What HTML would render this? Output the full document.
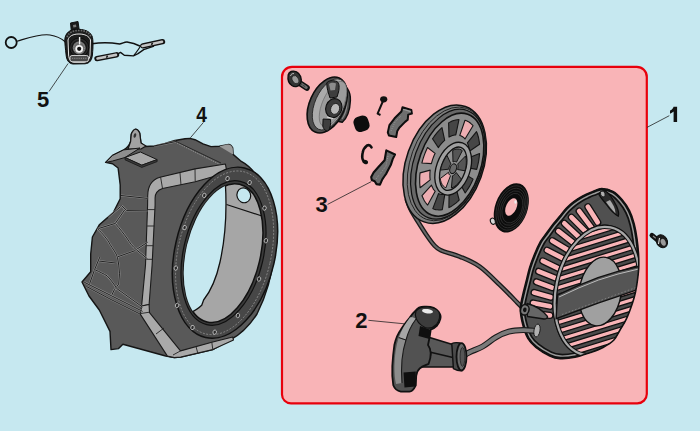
<!DOCTYPE html>
<html><head><meta charset="utf-8"><style>
html,body{margin:0;padding:0;width:700px;height:431px;overflow:hidden;background:#c6e8f0;}
svg{display:block;}
text{font-family:"Liberation Sans",sans-serif;font-weight:bold;font-size:22px;fill:#111;}
</style></head><body>
<svg width="700" height="431" viewBox="0 0 700 431">
<defs>
<clipPath id="c4open"><ellipse cx="223.3" cy="253.1" rx="37.1" ry="70.7" transform="rotate(13.3 223.3 253.1)"/></clipPath>
</defs>
<rect x="0" y="0" width="700" height="431" fill="#c6e8f0"/>
<!-- pink box -->
<path d="M292,66.9 H636.8 A10,10 0 0 1 646.8,76.9 V394 A9.5,9.5 0 0 1 637.3,403.4 H291 A9,9 0 0 1 282,394.4 V76.9 A10,10 0 0 1 292,66.9 Z" fill="#f9b4b7" stroke="#e8000c" stroke-width="2.2"/>

<!-- PART 5 -->
<g id="p5">
<circle cx="11.2" cy="42.5" r="5.5" fill="none" stroke="#111" stroke-width="1.8"/>
<path d="M17,41.2 C28,38 40,33.5 50,35 C57,36 62,39 65.5,42" fill="none" stroke="#111" stroke-width="1.1"/>
<path d="M92,43.8 C100,42.3 110,42.3 119.7,43.9 C123,43.5 124,42 127,42.1 C131,42.5 135,43.5 141,46.5" fill="none" stroke="#111" stroke-width="1.5"/>
<path d="M116,55 L120.5,52.4 L124.3,55.3 L133.4,55.9 L138,53.6 L143.7,49.6 L154,46.1" fill="none" stroke="#111" stroke-width="1.4" stroke-linejoin="round"/>
<path d="M140,47 C138,50 136,53 134,55" fill="none" stroke="#111" stroke-width="1.2"/>
<line x1="143" y1="45.8" x2="162.5" y2="41.7" stroke="#111" stroke-width="5.4" stroke-linecap="round"/>
<line x1="142.5" y1="45.9" x2="162" y2="41.8" stroke="#c4c4c4" stroke-width="2.6" stroke-linecap="round"/>
<line x1="151.5" y1="44.9" x2="152.5" y2="42.7" stroke="#111" stroke-width="1.5"/>
<line x1="97" y1="58.6" x2="116.5" y2="54.8" stroke="#111" stroke-width="5.4" stroke-linecap="round"/>
<line x1="97.5" y1="58.5" x2="116" y2="54.9" stroke="#c4c4c4" stroke-width="2.6" stroke-linecap="round"/>
<line x1="106.5" y1="57.8" x2="107.5" y2="55.6" stroke="#111" stroke-width="1.5"/>
<!-- body -->
<path d="M70.5,23 L78,21.5 L79.5,32 L71.5,33 Z" fill="#1a1a1a" stroke="#111" stroke-width="1"/>
<path d="M73,25 L76,24.5 L76.3,27 L73.3,27.5 Z" fill="#777"/>
<path d="M64.8,40 C65,33 70,29.5 76,29.3 C84,29 89.5,31 92,36 C93.5,40 93,48 92.5,54 C92,60 90,63.3 85,63.8 L73,64 C68.5,63.5 66.5,60 66,54 C65.5,49 64.8,44 64.8,40 Z" fill="#1e1e1e" stroke="#0c0c0c" stroke-width="1"/>
<path d="M67,37 C69,32 74,30.5 79,30.5 C85,30.5 89,32 91,37" fill="none" stroke="#6a6a6a" stroke-width="1.6" stroke-dasharray="1.5 1.2"/>
<path d="M68,40 C69,36 73,34 79,34 C85,34 89,36 90.5,40 L90,55 C89.5,60 87,62 84,62.3 L74,62.3 C71,62 69,60 68.6,55 Z" fill="#1c1c1c" stroke="#e6e6e6" stroke-width="1"/>
<circle cx="79.2" cy="47.5" r="9.6" fill="#2a2a2a" stroke="#0c0c0c" stroke-width="1"/>
<circle cx="79.2" cy="47.8" r="7.2" fill="#6a6a6a" stroke="#151515" stroke-width="1.2"/>
<circle cx="79.2" cy="47.8" r="5.4" fill="none" stroke="#9a9a9a" stroke-width="0.8" stroke-dasharray="1.2 1"/>
<circle cx="79.2" cy="48.8" r="3.9" fill="#f2f2f2"/>
<circle cx="79.2" cy="48.8" r="2.1" fill="#111"/>
<line x1="79.6" y1="37" x2="79.6" y2="44.5" stroke="#eee" stroke-width="1.4"/>
<rect x="70" y="55.5" width="18.5" height="6.2" rx="2" fill="#4a4a4a" stroke="#dcdcdc" stroke-width="0.9"/>
<line x1="72" y1="58.3" x2="86.5" y2="58.3" stroke="#999" stroke-width="0.8" stroke-dasharray="1.2 1"/>
</g>

<!-- PART 4 shroud -->
<g id="p4">
<path d="M118.1,168 L112.5,163.8 L105.6,162.4 L112.5,155.4 L123.7,149.9 C127,148 129.5,145 130.6,141.5 L131.3,134 Q135.5,125 139.7,133 L141,143 L145,146.5 L155,146 L165,143.5 L175,140.5 L185,138.8 L190,138.4 L195,139.7 L203,143.8 L211,146.6 L219.4,146.2 L227.5,144.6 Q230.5,143.5 232.7,147.9 L233.1,154.4 L240.5,160.8 C256,169 270,190 274,225 C277,262 268,292 257,314 C248,328 238,336 230,340 L212.8,349.6 L180.7,357.1 L174.3,357.6 L165.7,356 L122.9,344.3 L118.6,348.6 L111,349.6 L110,331.4 L99.3,310 L89,296 L82,282 L90.7,271.7 L90.7,254 L92.4,237 L99.3,224.8 L113.3,212.6 L120.2,198.7 L120.2,184.8 Z" fill="#595959" stroke="#151515" stroke-width="1.4" stroke-linejoin="round"/>
<!-- lid plate -->
<path d="M130.6,141.5 L131.3,134 Q135.5,125 139.7,133 L141,143 L146,146 L141,149 L128,149 Z" fill="#a2a2a2" stroke="#151515" stroke-width="1.2" stroke-linejoin="round"/>
<ellipse cx="134.9" cy="135.5" rx="1.3" ry="2.4" transform="rotate(15 134.9 135.5)" fill="#333"/>
<path d="M105.6,162.4 L112.5,155.4 L123.7,149.9 L140,148 L125,157.5 L112.5,161 Z" fill="#8e8e8e" stroke="#151515" stroke-width="1" stroke-linejoin="round"/>
<path d="M125,157.5 L140.4,152 L157.1,159.6 L141.8,165.2 Z" fill="#a8a8a8" stroke="#151515" stroke-width="1" stroke-linejoin="round"/>
<path d="M125,157.5 L141.8,165.2 L157.1,159.6 L157.1,161.6 L141.8,167.4 L125,159.8 Z" fill="#3a3a3a" stroke="#151515" stroke-width="0.8"/>
<path d="M176,141.5 L221,163" stroke="#222" stroke-width="0.9"/>
<path d="M177,143 L220,164.5" stroke="#bbb" stroke-width="0.6" stroke-dasharray="1.5 1"/>
<path d="M219.4,146.2 L227.5,144.6 Q230.5,143.5 232.7,147.9 L233.1,154.4 Z" fill="#9a9a9a"/>
<!-- seam bands -->
<path d="M141.6,306 L145.5,265 L147.6,205 L147.7,196 C147.7,186 152,179.5 160,177.2 L195,168.9 L225.4,164 L227,172.7 L195.2,181.7 L162.5,188.5 C158,190 155.1,193 155.1,198 L155.1,205 L152.1,265 L149.1,304.5 Z" fill="#a9a9a9" stroke="#1a1a1a" stroke-width="1.1" stroke-linejoin="round"/>
<path d="M160.6,177 L162.5,188.5 M180,173 L181,185 M195,168.9 L195.2,181.7 M147.6,209.6 L155,209.6 M147.1,226 L154.3,226 M146.5,245.7 L153.3,245.7 M146,259.3 L152.6,259.3" stroke="#222" stroke-width="0.9" fill="none"/>
<path d="M141.6,306 L149.1,304.5 L149.5,312.6 L180.5,350.9 L211.8,342.2 L232.7,337 L233.5,340 L212.8,349.6 L180.7,357.1 L174.3,357.6 L167.4,356.1 L140.4,314.4 Z" fill="#a9a9a9" stroke="#1a1a1a" stroke-width="1.1" stroke-linejoin="round"/>
<path d="M140.8,313.5 L149.4,312.2 M156,334 L164,328 M173,355 L180.5,350.9 M196,346.5 L198,354 M211.8,342.2 L212.8,349.6" stroke="#222" stroke-width="0.9" fill="none"/>
<!-- web lines -->
<g fill="none" stroke-linejoin="round">
<path d="M121,195.5 L147.7,198.4" stroke="#c4c4c4" stroke-width="1.9" opacity="0.55"/>
<path d="M121,195.5 L147.7,198.4" stroke="#151515" stroke-width="0.9"/>
<path d="M121.6,205.7 L126.8,210.6 L147.7,210.9" stroke="#c4c4c4" stroke-width="1.9" opacity="0.55"/>
<path d="M121.6,205.7 L126.8,210.6 L147.7,210.9" stroke="#151515" stroke-width="0.9"/>
<path d="M124.7,209.9 L115.3,223.4" stroke="#c4c4c4" stroke-width="1.9" opacity="0.55"/>
<path d="M124.7,209.9 L115.3,223.4" stroke="#151515" stroke-width="0.9"/>
<path d="M120.5,206.7 L108,217.2" stroke="#c4c4c4" stroke-width="1.9" opacity="0.55"/>
<path d="M120.5,206.7 L108,217.2" stroke="#151515" stroke-width="0.9"/>
<path d="M115.3,223.4 L97,229" stroke="#c4c4c4" stroke-width="1.9" opacity="0.55"/>
<path d="M115.3,223.4 L97,229" stroke="#151515" stroke-width="0.9"/>
<path d="M115.3,223.4 C120,229 124,234 126.8,238 C130,243 133,247 136.2,249.6 L147.7,242.2" stroke="#c4c4c4" stroke-width="1.9" opacity="0.55"/>
<path d="M115.3,223.4 C120,229 124,234 126.8,238 C130,243 133,247 136.2,249.6 L147.7,242.2" stroke="#151515" stroke-width="0.9"/>
<path d="M97.5,228.7 C103,234 108,240 110,244.3 C113,249 116,253 117.4,256.9 C118.5,262 119.2,268 119.5,273.6 L118.7,284 L114.5,289.5 L111.3,296" stroke="#c4c4c4" stroke-width="1.9" opacity="0.55"/>
<path d="M97.5,228.7 C103,234 108,240 110,244.3 C113,249 116,253 117.4,256.9 C118.5,262 119.2,268 119.5,273.6 L118.7,284 L114.5,289.5 L111.3,296" stroke="#151515" stroke-width="0.9"/>
<path d="M136.2,249.6 L147.7,259" stroke="#c4c4c4" stroke-width="1.9" opacity="0.55"/>
<path d="M136.2,249.6 L147.7,259" stroke="#151515" stroke-width="0.9"/>
<path d="M117.4,256.9 L135.2,250.6" stroke="#c4c4c4" stroke-width="1.9" opacity="0.55"/>
<path d="M117.4,256.9 L135.2,250.6" stroke="#151515" stroke-width="0.9"/>
<path d="M98.6,261 L116.3,263.1" stroke="#c4c4c4" stroke-width="1.9" opacity="0.55"/>
<path d="M98.6,261 L116.3,263.1" stroke="#151515" stroke-width="0.9"/>
<path d="M99.8,257.1 L94.6,269.6 L89.4,284.3" stroke="#c4c4c4" stroke-width="1.9" opacity="0.55"/>
<path d="M99.8,257.1 L94.6,269.6 L89.4,284.3" stroke="#151515" stroke-width="0.9"/>
<path d="M94.6,269.6 C100,272 104,274 107.2,275.9 C111,280 114,284 116.6,288.4 L142.7,307.2" stroke="#c4c4c4" stroke-width="1.9" opacity="0.55"/>
<path d="M94.6,269.6 C100,272 104,274 107.2,275.9 C111,280 114,284 116.6,288.4 L142.7,307.2" stroke="#151515" stroke-width="0.9"/>
<path d="M84.2,282.2 L111.3,295.7 L142.7,311.4" stroke="#c4c4c4" stroke-width="1.9" opacity="0.55"/>
<path d="M84.2,282.2 L111.3,295.7 L142.7,311.4" stroke="#151515" stroke-width="0.9"/>
<path d="M86.5,286.5 L110,299 L140,314" stroke="#c4c4c4" stroke-width="1.9" opacity="0.55"/>
<path d="M86.5,286.5 L110,299 L140,314" stroke="#151515" stroke-width="0.9"/>
<path d="M154,146 L176,141.5" stroke="#c4c4c4" stroke-width="1.9" opacity="0.55"/>
<path d="M154,146 L176,141.5" stroke="#151515" stroke-width="0.9"/>
</g>
<!-- flange -->
<ellipse cx="225" cy="252.7" rx="50.1" ry="87" transform="rotate(12.9 225 252.7)" fill="#474747" stroke="#111" stroke-width="1.5"/>
<ellipse cx="224.6" cy="252.8" rx="46.5" ry="83.3" transform="rotate(13 224.6 252.8)" fill="none" stroke="#9a9a9a" stroke-width="0.7" stroke-dasharray="2 1.5"/>
<ellipse cx="223.5" cy="253" rx="40" ry="73.6" transform="rotate(13.2 223.5 253)" fill="#3a3a3a" stroke="#111" stroke-width="1.2"/>
<!-- opening -->
<ellipse cx="223.3" cy="253.1" rx="37.1" ry="70.7" transform="rotate(13.3 223.3 253.1)" fill="#a6a6a6" stroke="#111" stroke-width="1.5"/>
<g clip-path="url(#c4open)">
<path d="M225,178 C227,205 226,235 220,262 C216,280 210,292 203.6,300 L201.7,305.3 C198,309 195,311 188,314 L140,330 L140,170 Z" fill="#c6e8f0"/>
<path d="M225,178 C227,205 226,235 220,262 C216,280 210,292 203.6,300 L201.7,305.3 C198,309 195,311 188,314" fill="none" stroke="#111" stroke-width="1.3"/>
<path d="M226.5,204.5 L262,216" fill="none" stroke="#111" stroke-width="1.2"/>
</g>
<ellipse cx="243.8" cy="195.3" rx="6.8" ry="7.5" transform="rotate(-20 243.8 195.3)" fill="#c6e8f0" stroke="#111" stroke-width="1.2"/>
<!-- flange holes -->
<g fill="#2a2a2a" stroke="#c8c8c8" stroke-width="0.8">
<ellipse cx="227.5" cy="178.6" rx="1.7" ry="2.2" transform="rotate(15 227.5 178.6)"/><ellipse cx="249.6" cy="182.6" rx="1.7" ry="2.2" transform="rotate(15 249.6 182.6)"/><ellipse cx="264.5" cy="208.1" rx="1.7" ry="2.2" transform="rotate(15 264.5 208.1)"/><ellipse cx="265.9" cy="240.7" rx="1.7" ry="2.2" transform="rotate(15 265.9 240.7)"/><ellipse cx="259" cy="279" rx="1.7" ry="2.2" transform="rotate(15 259 279)"/><ellipse cx="237.9" cy="315.5" rx="1.7" ry="2.2" transform="rotate(15 237.9 315.5)"/><ellipse cx="214.7" cy="332.2" rx="1.7" ry="2.2" transform="rotate(15 214.7 332.2)"/><ellipse cx="192.5" cy="327.5" rx="1.7" ry="2.2" transform="rotate(15 192.5 327.5)"/><ellipse cx="177.1" cy="305.4" rx="1.7" ry="2.2" transform="rotate(15 177.1 305.4)"/><ellipse cx="175.8" cy="268.1" rx="1.7" ry="2.2" transform="rotate(15 175.8 268.1)"/><ellipse cx="184.6" cy="227.6" rx="1.7" ry="2.2" transform="rotate(15 184.6 227.6)"/><ellipse cx="204.3" cy="195.4" rx="1.7" ry="2.2" transform="rotate(15 204.3 195.4)"/>
</g>
</g>

<!-- PART 1 -->
<g id="bolt1">
<line x1="298" y1="82" x2="306.8" y2="87.8" stroke="#111" stroke-width="6" stroke-linecap="round"/>
<line x1="299" y1="82.6" x2="306.3" y2="87.4" stroke="#6a6a6a" stroke-width="3" stroke-linecap="round"/>
<line x1="299.5" y1="82.8" x2="305.5" y2="86.9" stroke="#111" stroke-width="1" stroke-dasharray="0.8 1.2"/>
<path d="M288.2,75 C289,71.5 292.5,70.2 296.5,71.8 C300.5,73.8 302,78.5 300.8,82.8 C299.5,86.5 295,87.6 291.8,85.5 C288.6,83.3 287.6,79 288.2,75 Z" fill="#333" stroke="#0e0e0e" stroke-width="1.4"/>
<ellipse cx="295.4" cy="79.6" rx="3" ry="4.3" transform="rotate(-30 295.4 79.6)" fill="#9a9a9a" stroke="#222" stroke-width="0.7"/>
<path d="M290.5,76 C291,74 292.5,73.3 294,73.6" stroke="#c8c8c8" stroke-width="0.9" fill="none"/>
</g>
<g id="cam">
<path d="M339,83 C345.5,84 350.8,90.5 350.4,100.5 C350,110 347,118 342.3,122.3 L336.5,121 Z" fill="#4a4a4a" stroke="#0e0e0e" stroke-width="1.4" stroke-linejoin="round"/>
<path d="M343,88 C346.5,92 347.5,98 347,104 C346.5,110 345,115 342,119" stroke="#8a8a8a" stroke-width="1.2" fill="none"/>
<ellipse cx="327.2" cy="105" rx="17.6" ry="29.6" transform="rotate(24 327.2 105)" fill="#4e4e4e" stroke="#0e0e0e" stroke-width="1.6"/>
<ellipse cx="329.6" cy="104.4" rx="14.6" ry="27.2" transform="rotate(24 329.6 104.4)" fill="#ababab" stroke="#222" stroke-width="0.8"/>
<ellipse cx="333" cy="104" rx="10.5" ry="24.3" transform="rotate(24 333 104)" fill="#9c9c9c" stroke="#666" stroke-width="0.6"/>
<path d="M326.8,83 C328,80.5 333,80 337,81.5 C339.5,83 339.5,88 338.5,92 L337,97 L330,98 C328.5,93 326.5,88 326.8,83 Z" fill="#3e3e3e" stroke="#0e0e0e" stroke-width="1"/>
<path d="M329,84 C331,82.5 334,82.5 336,83.5 L335,90 L330.5,90.5 Z" fill="#8c8c8c"/>
<path d="M323.1,119 L330.5,119.5 C331,123.5 330.3,128 328.5,130.7 C326,131.5 323.5,129.5 322.8,126 Z" fill="#3e3e3e" stroke="#0e0e0e" stroke-width="1"/>
<ellipse cx="333.8" cy="108.1" rx="8" ry="9.6" transform="rotate(20 333.8 108.1)" fill="#3a3a3a" stroke="#0e0e0e" stroke-width="1.1"/>
<ellipse cx="335.1" cy="108.9" rx="4.4" ry="5.6" transform="rotate(20 335.1 108.9)" fill="#b8b8b8" stroke="#222" stroke-width="0.9"/>
<path d="M327,117 L333,118.5" stroke="#ddd" stroke-width="1.2"/>
</g>
<path d="M383,101 L377.6,113.6 L380.5,115" fill="none" stroke="#111" stroke-width="2" stroke-linejoin="round"/>
<ellipse cx="383.7" cy="99.3" rx="3.6" ry="3.1" fill="#111"/>
<rect x="354" y="116" width="15" height="15.5" rx="5.5" transform="rotate(-18 361.5 123.7)" fill="#0d0d0d"/>
<path d="M402.5,107.3 L411.3,109.9 L411.9,113.6 L408.2,114.6 L407.7,119.8 L405.1,121.9 L399.3,127.7 L397.2,131.3 L396.2,137.1 L388.9,135.5 L387.8,132.4 L389.4,125.1 L394.6,118.3 L401.4,111.5 Z" fill="#6e6e6e" stroke="#0e0e0e" stroke-width="2" stroke-linejoin="round"/>
<line x1="403" y1="109.3" x2="410.8" y2="111.6" stroke="#999" stroke-width="1.1"/>
<path d="M391,131 L395,122 L401,116" stroke="#9a9a9a" stroke-width="0.8" stroke-dasharray="1 1.2" fill="none"/>
<path d="M371.5,147.3 C370.5,145.5 368.5,144.8 367,145.5 C364.5,147.5 363,150 362.6,153 C362,156 362,159 363.5,161" fill="none" stroke="#0e0e0e" stroke-width="2.6" stroke-linecap="round"/>
<ellipse cx="365.3" cy="162" rx="2.8" ry="2" transform="rotate(20 365.3 162)" fill="#0e0e0e"/>
<path d="M386.3,150.4 L395,154.5 L392.7,159.1 L391,164.4 L386.3,173.6 L384.6,176 L382.3,179.4 L380,184.7 L376.5,184.1 L374.7,181.2 L371.8,180 L371.2,177.1 L373.6,172.5 L378.2,167.3 L384.6,160.3 L385.7,153.9 Z" fill="#6c6c6c" stroke="#0e0e0e" stroke-width="2.1" stroke-linejoin="round"/>
<path d="M388,156 L386,166 L380,174 M376,179 L379,175" stroke="#a0a0a0" stroke-width="0.8" stroke-dasharray="1 1.2" fill="none"/>
<path d="M407.0,200.0 C407.7,201.7 409.1,206.2 411.0,210.0 C412.9,213.8 415.9,218.3 418.5,222.5 C421.1,226.7 423.9,231.2 426.5,235.0 C429.1,238.8 431.6,242.4 434.0,245.0 C436.4,247.6 436.6,248.3 441.0,250.3 C445.4,252.3 453.8,254.1 460.2,256.8 C466.6,259.5 473.2,262.0 479.7,266.6 C486.2,271.2 493.0,278.4 499.2,284.4 C505.4,290.3 513.0,298.2 517.0,302.3 C521.0,306.4 522.4,307.7 523.5,308.8 " fill="none" stroke="#1a1a1a" stroke-width="4.6" stroke-linecap="round"/>
<path d="M407.0,200.0 C407.7,201.7 409.1,206.2 411.0,210.0 C412.9,213.8 415.9,218.3 418.5,222.5 C421.1,226.7 423.9,231.2 426.5,235.0 C429.1,238.8 431.6,242.4 434.0,245.0 C436.4,247.6 436.6,248.3 441.0,250.3 C445.4,252.3 453.8,254.1 460.2,256.8 C466.6,259.5 473.2,262.0 479.7,266.6 C486.2,271.2 493.0,278.4 499.2,284.4 C505.4,290.3 513.0,298.2 517.0,302.3 C521.0,306.4 522.4,307.7 523.5,308.8 " fill="none" stroke="#686868" stroke-width="2"/>
<g id="pulley">
<ellipse cx="444.7" cy="164.2" rx="38.5" ry="61.3" transform="rotate(19.7 444.7 164.2)" fill="#7c7c7c" stroke="#111" stroke-width="1.5"/>
<ellipse cx="446.5" cy="163.89999999999998" rx="36" ry="59" transform="rotate(19.7 446.5 163.89999999999998)" fill="none" stroke="#222" stroke-width="0.9"/>
<ellipse cx="447.9" cy="164.2" rx="34" ry="57" transform="rotate(19.7 447.9 164.2)" fill="#686868" stroke="#111" stroke-width="1.2"/>
<ellipse cx="449.7" cy="164.7" rx="30.8" ry="53.5" transform="rotate(19.7 449.7 164.7)" fill="#8c8c8c" stroke="#111" stroke-width="1.6"/>
<path d="M473.1,179.1 L472.0,181.6 L470.8,184.0 L469.5,186.4 L468.1,188.6 L466.7,190.8 L465.2,193.0 L459.9,183.3 L460.9,181.9 L461.8,180.5 L462.7,179.0 L463.6,177.4 L464.4,175.8 L465.1,174.2 Z" fill="#464646" stroke="#151515" stroke-width="1.1" stroke-linejoin="round"/>
<path d="M459.2,200.0 L457.6,201.6 L455.9,203.1 L454.1,204.4 L452.4,205.6 L450.6,206.7 L448.9,207.6 L449.1,193.0 L450.3,192.4 L451.5,191.7 L452.6,190.9 L453.8,190.0 L454.9,189.0 L456.0,188.0 Z" fill="#464646" stroke="#151515" stroke-width="1.1" stroke-linejoin="round"/>
<path d="M442.3,209.7 L440.6,209.9 L439.0,210.0 L437.3,209.8 L435.8,209.6 L434.2,209.2 L432.8,208.6 L438.5,193.6 L439.5,194.0 L440.5,194.3 L441.6,194.5 L442.6,194.5 L443.7,194.5 L444.8,194.4 Z" fill="#464646" stroke="#151515" stroke-width="1.1" stroke-linejoin="round"/>
<path d="M427.7,205.1 L426.6,203.9 L425.5,202.5 L424.5,201.0 L423.6,199.3 L422.8,197.5 L422.0,195.7 L431.5,185.1 L431.9,186.3 L432.5,187.5 L433.1,188.6 L433.7,189.6 L434.5,190.5 L435.2,191.3 Z" fill="#eeaeb2" stroke="#151515" stroke-width="1.1" stroke-linejoin="round"/>
<path d="M420.1,187.7 L419.9,185.4 L419.7,183.0 L419.7,180.6 L419.7,178.0 L419.8,175.5 L420.1,172.9 L430.2,170.1 L430.0,171.8 L429.9,173.5 L429.9,175.1 L429.9,176.8 L430.0,178.3 L430.2,179.9 Z" fill="#eeaeb2" stroke="#151515" stroke-width="1.1" stroke-linejoin="round"/>
<path d="M421.9,163.0 L422.6,160.4 L423.4,157.7 L424.3,155.1 L425.3,152.5 L426.4,150.0 L427.5,147.5 L435.1,153.4 L434.3,155.0 L433.6,156.7 L433.0,158.4 L432.4,160.1 L431.9,161.8 L431.4,163.6 Z" fill="#eeaeb2" stroke="#151515" stroke-width="1.1" stroke-linejoin="round"/>
<path d="M432.5,138.8 L434.0,136.7 L435.5,134.7 L437.1,132.7 L438.7,130.9 L440.4,129.2 L442.0,127.6 L444.7,140.3 L443.5,141.3 L442.5,142.4 L441.4,143.6 L440.3,144.9 L439.3,146.2 L438.4,147.6 Z" fill="#464646" stroke="#151515" stroke-width="1.1" stroke-linejoin="round"/>
<path d="M448.6,122.9 L450.3,121.9 L452.1,121.1 L453.8,120.5 L455.6,120.0 L457.3,119.7 L459.0,119.5 L455.8,134.9 L454.7,135.0 L453.6,135.2 L452.4,135.6 L451.3,136.0 L450.1,136.5 L449.0,137.1 Z" fill="#464646" stroke="#151515" stroke-width="1.1" stroke-linejoin="round"/>
<path d="M465.0,120.2 L466.5,120.7 L467.9,121.4 L469.3,122.3 L470.6,123.3 L471.8,124.4 L473.0,125.7 L465.0,139.0 L464.3,138.1 L463.5,137.4 L462.6,136.7 L461.7,136.2 L460.8,135.7 L459.8,135.4 Z" fill="#eeaeb2" stroke="#151515" stroke-width="1.1" stroke-linejoin="round"/>
<path d="M476.5,131.6 L477.3,133.5 L477.9,135.5 L478.5,137.5 L478.9,139.7 L479.3,142.0 L479.6,144.3 L469.4,151.2 L469.2,149.7 L469.0,148.2 L468.7,146.8 L468.3,145.4 L467.9,144.1 L467.4,142.9 Z" fill="#464646" stroke="#151515" stroke-width="1.1" stroke-linejoin="round"/>
<path d="M479.6,153.6 L479.3,156.2 L479.0,158.8 L478.6,161.4 L478.0,164.1 L477.4,166.7 L476.7,169.4 L467.5,167.8 L468.0,166.0 L468.4,164.3 L468.7,162.5 L469.0,160.8 L469.2,159.1 L469.4,157.4 Z" fill="#464646" stroke="#151515" stroke-width="1.1" stroke-linejoin="round"/>
<ellipse cx="453.2" cy="168.7" rx="14.5" ry="25" transform="rotate(19.7 453.2 168.7)" fill="#909090" stroke="#111" stroke-width="6"/>
<ellipse cx="453.2" cy="168.7" rx="14.5" ry="25" transform="rotate(19.7 453.2 168.7)" fill="none" stroke="#a0a0a0" stroke-width="3.4"/>
<path d="M461.3,179.1 L459.9,181.2 L458.3,183.2 L456.6,184.8 L454.9,186.2 L453.1,187.3 L451.4,188.0 L452.5,175.8 L453.2,175.5 L453.8,175.1 L454.5,174.6 L455.1,174.0 L455.6,173.3 L456.2,172.5 Z" fill="#555" stroke="#151515" stroke-width="1"/>
<path d="M445.9,187.8 L444.5,187.0 L443.2,185.9 L442.2,184.5 L441.3,182.7 L440.7,180.8 L440.2,178.6 L448.5,172.3 L448.6,173.1 L448.9,173.8 L449.2,174.5 L449.6,175.0 L450.0,175.4 L450.5,175.7 Z" fill="#eeaeb2" stroke="#151515" stroke-width="1"/>
<path d="M440.5,170.1 L441.1,167.5 L441.9,164.9 L443.0,162.3 L444.2,159.9 L445.5,157.6 L447.0,155.5 L450.9,163.9 L450.4,164.6 L449.9,165.5 L449.5,166.4 L449.1,167.3 L448.8,168.3 L448.6,169.2 Z" fill="#555" stroke="#151515" stroke-width="1"/>
<path d="M452.7,150.5 L454.4,149.6 L456.2,149.1 L457.9,149.0 L459.5,149.2 L461.0,149.8 L462.3,150.7 L456.5,162.1 L456.0,161.8 L455.5,161.6 L454.9,161.5 L454.3,161.5 L453.7,161.7 L453.0,162.0 Z" fill="#555" stroke="#151515" stroke-width="1"/>
<path d="M465.5,156.0 L466.0,158.1 L466.3,160.4 L466.3,162.9 L466.1,165.5 L465.7,168.1 L465.0,170.8 L457.5,169.5 L457.8,168.5 L457.9,167.5 L458.0,166.6 L458.0,165.7 L457.9,164.8 L457.7,164.0 Z" fill="#555" stroke="#151515" stroke-width="1"/>
<ellipse cx="453.2" cy="168.7" rx="3.2" ry="5" transform="rotate(19.7 453.2 168.7)" fill="#6a6a6a" stroke="#111" stroke-width="1"/>
</g>
<g id="spring">
<ellipse cx="511.3" cy="207.9" rx="16.2" ry="25.6" transform="rotate(20 511.3 207.9)" fill="#0c0c0c"/>
<ellipse cx="511.8" cy="207.9" rx="14.6" ry="23.0" transform="rotate(20 511.6 207.9)" fill="none" stroke="#3c3c3c" stroke-width="0.6"/>
<ellipse cx="512.0" cy="207.9" rx="13.0" ry="20.5" transform="rotate(20 511.6 207.9)" fill="none" stroke="#3c3c3c" stroke-width="0.6"/>
<ellipse cx="512.2" cy="207.9" rx="11.3" ry="17.9" transform="rotate(20 511.6 207.9)" fill="none" stroke="#3c3c3c" stroke-width="0.6"/>
<ellipse cx="512.4" cy="207.9" rx="9.7" ry="15.4" transform="rotate(20 511.6 207.9)" fill="none" stroke="#3c3c3c" stroke-width="0.6"/>
<ellipse cx="511.3" cy="207" rx="5.2" ry="9.3" transform="rotate(25 511.3 207)" fill="#f9b4b7"/>
<ellipse cx="492.8" cy="221.2" rx="2.4" ry="3.2" transform="rotate(-20 492.8 221.2)" fill="#d8d8d8" stroke="#111" stroke-width="1"/>
<ellipse cx="515.5" cy="202" rx="1.2" ry="1.8" fill="#eee"/>
</g>
<defs><clipPath id="chous"><path d="M601.7,188.6 C605.0,188.6 609.5,189.6 612.9,191.4 C616.3,193.2 619.4,196.4 622.2,199.7 C625.0,202.9 627.6,206.9 629.6,210.9 C631.6,214.9 633.0,219.2 634.2,223.9 C635.4,228.6 636.3,233.9 637.0,238.8 C637.7,243.8 638.2,248.7 638.5,253.6 C638.8,258.5 638.9,263.6 638.7,268.0 C638.5,272.4 638.0,276.0 637.5,280.0 C637.0,284.0 636.3,288.2 635.5,292.0 C634.7,295.8 634.0,298.5 632.5,303.0 C631.0,307.5 628.5,314.4 626.4,318.9 C624.3,323.4 622.1,326.5 620.0,330.0 C617.9,333.5 616.7,337.1 613.9,340.0 C611.1,342.9 606.9,345.4 603.0,347.5 C599.1,349.6 595.1,350.9 590.4,352.5 C585.7,354.1 580.0,356.3 575.0,357.3 C570.0,358.3 564.4,358.8 560.2,358.6 C556.0,358.4 553.8,357.9 549.8,356.0 C545.8,354.1 539.5,350.3 535.9,347.4 C532.3,344.5 530.2,342.5 528.0,338.7 C525.8,334.9 524.1,329.8 522.8,324.8 C521.5,319.9 520.3,313.8 520.3,309.0 C520.2,304.2 521.5,300.5 522.5,296.0 C523.5,291.5 524.8,286.5 526.0,281.8 C527.2,277.1 528.1,272.4 529.5,267.9 C530.9,263.3 532.6,258.9 534.4,254.5 C536.2,250.1 538.5,245.1 540.5,241.5 C542.5,237.9 544.5,235.9 546.6,233.0 C548.7,230.1 551.0,226.8 553.2,224.0 C555.4,221.2 557.6,218.8 559.8,216.1 C562.0,213.4 564.3,210.4 566.5,208.1 C568.7,205.8 570.9,203.9 573.1,202.2 C575.3,200.4 577.5,198.9 579.7,197.6 C581.9,196.3 584.1,195.2 586.3,194.2 C588.5,193.2 590.3,192.3 592.9,191.4 C595.5,190.5 598.4,188.6 601.7,188.6 Z"/></clipPath>
<clipPath id="chub"><ellipse cx="597" cy="291" rx="41" ry="65" transform="rotate(12 597 291)"/></clipPath></defs>
<g id="housing">
<path d="M601.7,188.6 C605.0,188.6 609.5,189.6 612.9,191.4 C616.3,193.2 619.4,196.4 622.2,199.7 C625.0,202.9 627.6,206.9 629.6,210.9 C631.6,214.9 633.0,219.2 634.2,223.9 C635.4,228.6 636.3,233.9 637.0,238.8 C637.7,243.8 638.2,248.7 638.5,253.6 C638.8,258.5 638.9,263.6 638.7,268.0 C638.5,272.4 638.0,276.0 637.5,280.0 C637.0,284.0 636.3,288.2 635.5,292.0 C634.7,295.8 634.0,298.5 632.5,303.0 C631.0,307.5 628.5,314.4 626.4,318.9 C624.3,323.4 622.1,326.5 620.0,330.0 C617.9,333.5 616.7,337.1 613.9,340.0 C611.1,342.9 606.9,345.4 603.0,347.5 C599.1,349.6 595.1,350.9 590.4,352.5 C585.7,354.1 580.0,356.3 575.0,357.3 C570.0,358.3 564.4,358.8 560.2,358.6 C556.0,358.4 553.8,357.9 549.8,356.0 C545.8,354.1 539.5,350.3 535.9,347.4 C532.3,344.5 530.2,342.5 528.0,338.7 C525.8,334.9 524.1,329.8 522.8,324.8 C521.5,319.9 520.3,313.8 520.3,309.0 C520.2,304.2 521.5,300.5 522.5,296.0 C523.5,291.5 524.8,286.5 526.0,281.8 C527.2,277.1 528.1,272.4 529.5,267.9 C530.9,263.3 532.6,258.9 534.4,254.5 C536.2,250.1 538.5,245.1 540.5,241.5 C542.5,237.9 544.5,235.9 546.6,233.0 C548.7,230.1 551.0,226.8 553.2,224.0 C555.4,221.2 557.6,218.8 559.8,216.1 C562.0,213.4 564.3,210.4 566.5,208.1 C568.7,205.8 570.9,203.9 573.1,202.2 C575.3,200.4 577.5,198.9 579.7,197.6 C581.9,196.3 584.1,195.2 586.3,194.2 C588.5,193.2 590.3,192.3 592.9,191.4 C595.5,190.5 598.4,188.6 601.7,188.6 Z" fill="#505050"/>
<g clip-path="url(#chous)">
<path d="M601.7,188.6 C605.0,188.6 609.5,189.6 612.9,191.4 C616.3,193.2 619.4,196.4 622.2,199.7 C625.0,202.9 627.6,206.9 629.6,210.9 C631.6,214.9 633.0,219.2 634.2,223.9 C635.4,228.6 636.3,233.9 637.0,238.8 C637.7,243.8 638.2,248.7 638.5,253.6 C638.8,258.5 638.9,263.6 638.7,268.0 C638.5,272.4 638.0,276.0 637.5,280.0 C637.0,284.0 636.3,288.2 635.5,292.0 C634.7,295.8 634.0,298.5 632.5,303.0 C631.0,307.5 628.5,314.4 626.4,318.9 C624.3,323.4 622.1,326.5 620.0,330.0 C617.9,333.5 616.7,337.1 613.9,340.0 C611.1,342.9 606.9,345.4 603.0,347.5 C599.1,349.6 595.1,350.9 590.4,352.5 C585.7,354.1 580.0,356.3 575.0,357.3 C570.0,358.3 564.4,358.8 560.2,358.6 C556.0,358.4 553.8,357.9 549.8,356.0 C545.8,354.1 539.5,350.3 535.9,347.4 C532.3,344.5 530.2,342.5 528.0,338.7 C525.8,334.9 524.1,329.8 522.8,324.8 C521.5,319.9 520.3,313.8 520.3,309.0 C520.2,304.2 521.5,300.5 522.5,296.0 C523.5,291.5 524.8,286.5 526.0,281.8 C527.2,277.1 528.1,272.4 529.5,267.9 C530.9,263.3 532.6,258.9 534.4,254.5 C536.2,250.1 538.5,245.1 540.5,241.5 C542.5,237.9 544.5,235.9 546.6,233.0 C548.7,230.1 551.0,226.8 553.2,224.0 C555.4,221.2 557.6,218.8 559.8,216.1 C562.0,213.4 564.3,210.4 566.5,208.1 C568.7,205.8 570.9,203.9 573.1,202.2 C575.3,200.4 577.5,198.9 579.7,197.6 C581.9,196.3 584.1,195.2 586.3,194.2 C588.5,193.2 590.3,192.3 592.9,191.4 C595.5,190.5 598.4,188.6 601.7,188.6 Z" fill="none" stroke="#111" stroke-width="10"/>
<path d="M601.7,188.6 C605.0,188.6 609.5,189.6 612.9,191.4 C616.3,193.2 619.4,196.4 622.2,199.7 C625.0,202.9 627.6,206.9 629.6,210.9 C631.6,214.9 633.0,219.2 634.2,223.9 C635.4,228.6 636.3,233.9 637.0,238.8 C637.7,243.8 638.2,248.7 638.5,253.6 C638.8,258.5 638.9,263.6 638.7,268.0 C638.5,272.4 638.0,276.0 637.5,280.0 C637.0,284.0 636.3,288.2 635.5,292.0 C634.7,295.8 634.0,298.5 632.5,303.0 C631.0,307.5 628.5,314.4 626.4,318.9 C624.3,323.4 622.1,326.5 620.0,330.0 C617.9,333.5 616.7,337.1 613.9,340.0 C611.1,342.9 606.9,345.4 603.0,347.5 C599.1,349.6 595.1,350.9 590.4,352.5 C585.7,354.1 580.0,356.3 575.0,357.3 C570.0,358.3 564.4,358.8 560.2,358.6 C556.0,358.4 553.8,357.9 549.8,356.0 C545.8,354.1 539.5,350.3 535.9,347.4 C532.3,344.5 530.2,342.5 528.0,338.7 C525.8,334.9 524.1,329.8 522.8,324.8 C521.5,319.9 520.3,313.8 520.3,309.0 C520.2,304.2 521.5,300.5 522.5,296.0 C523.5,291.5 524.8,286.5 526.0,281.8 C527.2,277.1 528.1,272.4 529.5,267.9 C530.9,263.3 532.6,258.9 534.4,254.5 C536.2,250.1 538.5,245.1 540.5,241.5 C542.5,237.9 544.5,235.9 546.6,233.0 C548.7,230.1 551.0,226.8 553.2,224.0 C555.4,221.2 557.6,218.8 559.8,216.1 C562.0,213.4 564.3,210.4 566.5,208.1 C568.7,205.8 570.9,203.9 573.1,202.2 C575.3,200.4 577.5,198.9 579.7,197.6 C581.9,196.3 584.1,195.2 586.3,194.2 C588.5,193.2 590.3,192.3 592.9,191.4 C595.5,190.5 598.4,188.6 601.7,188.6 Z" fill="none" stroke="#9a9a9a" stroke-width="6.5"/>
<path d="M601.7,188.6 C605.0,188.6 609.5,189.6 612.9,191.4 C616.3,193.2 619.4,196.4 622.2,199.7 C625.0,202.9 627.6,206.9 629.6,210.9 C631.6,214.9 633.0,219.2 634.2,223.9 C635.4,228.6 636.3,233.9 637.0,238.8 C637.7,243.8 638.2,248.7 638.5,253.6 C638.8,258.5 638.9,263.6 638.7,268.0 C638.5,272.4 638.0,276.0 637.5,280.0 C637.0,284.0 636.3,288.2 635.5,292.0 C634.7,295.8 634.0,298.5 632.5,303.0 C631.0,307.5 628.5,314.4 626.4,318.9 C624.3,323.4 622.1,326.5 620.0,330.0 C617.9,333.5 616.7,337.1 613.9,340.0 C611.1,342.9 606.9,345.4 603.0,347.5 C599.1,349.6 595.1,350.9 590.4,352.5 C585.7,354.1 580.0,356.3 575.0,357.3 C570.0,358.3 564.4,358.8 560.2,358.6 C556.0,358.4 553.8,357.9 549.8,356.0 C545.8,354.1 539.5,350.3 535.9,347.4 C532.3,344.5 530.2,342.5 528.0,338.7 C525.8,334.9 524.1,329.8 522.8,324.8 C521.5,319.9 520.3,313.8 520.3,309.0 C520.2,304.2 521.5,300.5 522.5,296.0 C523.5,291.5 524.8,286.5 526.0,281.8 C527.2,277.1 528.1,272.4 529.5,267.9 C530.9,263.3 532.6,258.9 534.4,254.5 C536.2,250.1 538.5,245.1 540.5,241.5 C542.5,237.9 544.5,235.9 546.6,233.0 C548.7,230.1 551.0,226.8 553.2,224.0 C555.4,221.2 557.6,218.8 559.8,216.1 C562.0,213.4 564.3,210.4 566.5,208.1 C568.7,205.8 570.9,203.9 573.1,202.2 C575.3,200.4 577.5,198.9 579.7,197.6 C581.9,196.3 584.1,195.2 586.3,194.2 C588.5,193.2 590.3,192.3 592.9,191.4 C595.5,190.5 598.4,188.6 601.7,188.6 Z" fill="none" stroke="#111" stroke-width="3.6"/>
<rect x="580.56" y="211.58" width="24.44" height="6.00" rx="3.00" fill="#f9b4b7" stroke="#111" stroke-width="1.3" transform="rotate(57.7 592.78 214.58)"/>
<rect x="572.02" y="216.35" width="26.66" height="6.00" rx="3.00" fill="#f9b4b7" stroke="#111" stroke-width="1.3" transform="rotate(53.2 585.35 219.35)"/>
<rect x="565.48" y="221.25" width="25.73" height="6.00" rx="3.00" fill="#f9b4b7" stroke="#111" stroke-width="1.3" transform="rotate(45.0 578.35 224.25)"/>
<rect x="558.78" y="226.91" width="25.10" height="6.00" rx="3.00" fill="#f9b4b7" stroke="#111" stroke-width="1.3" transform="rotate(43.2 571.34 229.91)"/>
<rect x="553.40" y="233.89" width="24.60" height="6.00" rx="3.00" fill="#f9b4b7" stroke="#111" stroke-width="1.3" transform="rotate(38.0 565.71 236.89)"/>
<rect x="547.94" y="242.64" width="25.07" height="6.00" rx="3.00" fill="#f9b4b7" stroke="#111" stroke-width="1.3" transform="rotate(30.9 560.47 245.64)"/>
<rect x="542.97" y="251.87" width="26.18" height="6.00" rx="3.00" fill="#f9b4b7" stroke="#111" stroke-width="1.3" transform="rotate(27.3 556.06 254.87)"/>
<rect x="538.97" y="261.53" width="22.56" height="6.00" rx="3.00" fill="#f9b4b7" stroke="#111" stroke-width="1.3" transform="rotate(25.7 550.25 264.53)"/>
<rect x="534.96" y="271.61" width="23.56" height="6.00" rx="3.00" fill="#f9b4b7" stroke="#111" stroke-width="1.3" transform="rotate(21.9 546.74 274.61)"/>
<rect x="532.97" y="281.73" width="22.61" height="6.00" rx="3.00" fill="#f9b4b7" stroke="#111" stroke-width="1.3" transform="rotate(20.4 544.28 284.73)"/>
<rect x="530.78" y="291.87" width="23.48" height="6.00" rx="3.00" fill="#f9b4b7" stroke="#111" stroke-width="1.3" transform="rotate(15.5 542.52 294.87)"/>
<rect x="529.94" y="301.65" width="23.14" height="6.00" rx="3.00" fill="#f9b4b7" stroke="#111" stroke-width="1.3" transform="rotate(11.0 541.51 304.65)"/>
<rect x="530.55" y="311.44" width="22.41" height="6.00" rx="3.00" fill="#f9b4b7" stroke="#111" stroke-width="1.3" transform="rotate(6.5 541.75 314.44)"/>
<ellipse cx="597" cy="291" rx="41" ry="65" transform="rotate(12 597 291)" fill="#4a4a4a" stroke="#111" stroke-width="3.2"/>
<ellipse cx="597" cy="291" rx="41" ry="65" transform="rotate(12 597 291)" fill="none" stroke="#111" stroke-width="4.4"/>
<ellipse cx="597" cy="291" rx="41" ry="65" transform="rotate(12 597 291)" fill="none" stroke="#a8a8a8" stroke-width="2.2"/>
<g clip-path="url(#chub)">
<rect x="539.35" y="169.35" width="113.80" height="4.50" rx="2.25" fill="#f9b4b7" stroke="#111" stroke-width="1.3" transform="rotate(-17.1 596.25 171.60)"/>
<rect x="539.35" y="178.05" width="113.80" height="4.50" rx="2.25" fill="#f9b4b7" stroke="#111" stroke-width="1.3" transform="rotate(-17.1 596.25 180.30)"/>
<rect x="539.35" y="186.75" width="113.80" height="4.50" rx="2.25" fill="#f9b4b7" stroke="#111" stroke-width="1.3" transform="rotate(-17.1 596.25 189.00)"/>
<rect x="539.35" y="195.45" width="113.80" height="4.50" rx="2.25" fill="#f9b4b7" stroke="#111" stroke-width="1.3" transform="rotate(-17.1 596.25 197.70)"/>
<rect x="539.35" y="204.15" width="113.80" height="4.50" rx="2.25" fill="#f9b4b7" stroke="#111" stroke-width="1.3" transform="rotate(-17.1 596.25 206.40)"/>
<rect x="539.35" y="212.85" width="113.80" height="4.50" rx="2.25" fill="#f9b4b7" stroke="#111" stroke-width="1.3" transform="rotate(-17.1 596.25 215.10)"/>
<rect x="539.35" y="221.55" width="113.80" height="4.50" rx="2.25" fill="#f9b4b7" stroke="#111" stroke-width="1.3" transform="rotate(-17.1 596.25 223.80)"/>
<rect x="539.35" y="230.25" width="113.80" height="4.50" rx="2.25" fill="#f9b4b7" stroke="#111" stroke-width="1.3" transform="rotate(-17.1 596.25 232.50)"/>
<rect x="539.35" y="238.95" width="113.80" height="4.50" rx="2.25" fill="#f9b4b7" stroke="#111" stroke-width="1.3" transform="rotate(-17.1 596.25 241.20)"/>
<rect x="539.35" y="247.65" width="113.80" height="4.50" rx="2.25" fill="#f9b4b7" stroke="#111" stroke-width="1.3" transform="rotate(-17.1 596.25 249.90)"/>
<rect x="539.35" y="256.35" width="113.80" height="4.50" rx="2.25" fill="#f9b4b7" stroke="#111" stroke-width="1.3" transform="rotate(-17.1 596.25 258.60)"/>
<rect x="539.35" y="265.05" width="113.80" height="4.50" rx="2.25" fill="#f9b4b7" stroke="#111" stroke-width="1.3" transform="rotate(-17.1 596.25 267.30)"/>
<rect x="539.35" y="273.75" width="113.80" height="4.50" rx="2.25" fill="#f9b4b7" stroke="#111" stroke-width="1.3" transform="rotate(-17.1 596.25 276.00)"/>
<rect x="539.35" y="282.45" width="113.80" height="4.50" rx="2.25" fill="#f9b4b7" stroke="#111" stroke-width="1.3" transform="rotate(-17.1 596.25 284.70)"/>
<rect x="539.35" y="291.15" width="113.80" height="4.50" rx="2.25" fill="#f9b4b7" stroke="#111" stroke-width="1.3" transform="rotate(-17.1 596.25 293.40)"/>
<rect x="539.35" y="299.85" width="113.80" height="4.50" rx="2.25" fill="#f9b4b7" stroke="#111" stroke-width="1.3" transform="rotate(-17.1 596.25 302.10)"/>
<rect x="539.35" y="308.55" width="113.80" height="4.50" rx="2.25" fill="#f9b4b7" stroke="#111" stroke-width="1.3" transform="rotate(-17.1 596.25 310.80)"/>
<rect x="539.35" y="317.25" width="113.80" height="4.50" rx="2.25" fill="#f9b4b7" stroke="#111" stroke-width="1.3" transform="rotate(-17.1 596.25 319.50)"/>
<rect x="539.35" y="325.95" width="113.80" height="4.50" rx="2.25" fill="#f9b4b7" stroke="#111" stroke-width="1.3" transform="rotate(-17.1 596.25 328.20)"/>
<rect x="539.35" y="334.65" width="113.80" height="4.50" rx="2.25" fill="#f9b4b7" stroke="#111" stroke-width="1.3" transform="rotate(-17.1 596.25 336.90)"/>
<rect x="539.35" y="343.35" width="113.80" height="4.50" rx="2.25" fill="#f9b4b7" stroke="#111" stroke-width="1.3" transform="rotate(-17.1 596.25 345.60)"/>
</g>
<ellipse cx="597" cy="291" rx="41" ry="65" transform="rotate(12 597 291)" fill="none" stroke="#111" stroke-width="4.4"/>
<ellipse cx="597" cy="291" rx="41" ry="65" transform="rotate(12 597 291)" fill="none" stroke="#a8a8a8" stroke-width="2.2"/>
<ellipse cx="600.3" cy="291.5" rx="21" ry="34.6" transform="rotate(9 600.3 291.5)" fill="#a0a0a0" stroke="#111" stroke-width="1.4"/>
<path d="M557.5,295.1 Q578,285 598,277.6 L618,271.4 L645,265 L645,287 L637.5,289.7 L618,296.4 L598,303.1 L556.1,318.7 Z" fill="#555" stroke="#111" stroke-width="1.4"/>
<path d="M559,297 Q579,287.3 598.5,280 L618,274 L645,267.5" fill="none" stroke="#c8c8c8" stroke-width="0.9"/>
<path d="M562,314.5 L640,286" stroke="#8a8a8a" stroke-width="0.8" stroke-dasharray="1.5 2"/>
<path d="M599,194.5 C600,191.5 603,190.5 605.5,191 C609,193 613,199 616.5,206 C618.5,210.5 619,214.5 618.3,216.2 C614,214 609.5,209 606,204 C603,200 600,197 599,194.5 Z" fill="#2a2a2a" stroke="#0e0e0e" stroke-width="1.3"/>
<path d="M606,202 C609,206 612,210 615.5,213.5 C615.5,209 613,204 610,200 Z" fill="#a8a8a8"/>
<ellipse cx="602.8" cy="194" rx="2.2" ry="3" transform="rotate(-20 602.8 194)" fill="#b0b0b0" stroke="#111" stroke-width="0.8"/>
</g>
<path d="M601.7,188.6 C605.0,188.6 609.5,189.6 612.9,191.4 C616.3,193.2 619.4,196.4 622.2,199.7 C625.0,202.9 627.6,206.9 629.6,210.9 C631.6,214.9 633.0,219.2 634.2,223.9 C635.4,228.6 636.3,233.9 637.0,238.8 C637.7,243.8 638.2,248.7 638.5,253.6 C638.8,258.5 638.9,263.6 638.7,268.0 C638.5,272.4 638.0,276.0 637.5,280.0 C637.0,284.0 636.3,288.2 635.5,292.0 C634.7,295.8 634.0,298.5 632.5,303.0 C631.0,307.5 628.5,314.4 626.4,318.9 C624.3,323.4 622.1,326.5 620.0,330.0 C617.9,333.5 616.7,337.1 613.9,340.0 C611.1,342.9 606.9,345.4 603.0,347.5 C599.1,349.6 595.1,350.9 590.4,352.5 C585.7,354.1 580.0,356.3 575.0,357.3 C570.0,358.3 564.4,358.8 560.2,358.6 C556.0,358.4 553.8,357.9 549.8,356.0 C545.8,354.1 539.5,350.3 535.9,347.4 C532.3,344.5 530.2,342.5 528.0,338.7 C525.8,334.9 524.1,329.8 522.8,324.8 C521.5,319.9 520.3,313.8 520.3,309.0 C520.2,304.2 521.5,300.5 522.5,296.0 C523.5,291.5 524.8,286.5 526.0,281.8 C527.2,277.1 528.1,272.4 529.5,267.9 C530.9,263.3 532.6,258.9 534.4,254.5 C536.2,250.1 538.5,245.1 540.5,241.5 C542.5,237.9 544.5,235.9 546.6,233.0 C548.7,230.1 551.0,226.8 553.2,224.0 C555.4,221.2 557.6,218.8 559.8,216.1 C562.0,213.4 564.3,210.4 566.5,208.1 C568.7,205.8 570.9,203.9 573.1,202.2 C575.3,200.4 577.5,198.9 579.7,197.6 C581.9,196.3 584.1,195.2 586.3,194.2 C588.5,193.2 590.3,192.3 592.9,191.4 C595.5,190.5 598.4,188.6 601.7,188.6 Z" fill="none" stroke="#111" stroke-width="1.6"/>
</g>
<path d="M463.0,356.0 C464.2,355.3 466.7,353.6 470.0,352.0 C473.3,350.4 478.3,348.9 482.6,346.5 C486.9,344.1 491.4,339.9 495.7,337.4 C500.0,334.9 504.1,332.9 508.7,331.7 C513.3,330.5 518.8,330.2 523.3,330.1 C527.8,330.0 533.9,330.9 536.0,331.0 " fill="none" stroke="#1a1a1a" stroke-width="6" stroke-linecap="round"/>
<path d="M463.0,356.0 C464.2,355.3 466.7,353.6 470.0,352.0 C473.3,350.4 478.3,348.9 482.6,346.5 C486.9,344.1 491.4,339.9 495.7,337.4 C500.0,334.9 504.1,332.9 508.7,331.7 C513.3,330.5 518.8,330.2 523.3,330.1 C527.8,330.0 533.9,330.9 536.0,331.0 " fill="none" stroke="#7a7a7a" stroke-width="3.8"/>
<ellipse cx="537" cy="330.5" rx="3" ry="6.5" transform="rotate(10 537 330.5)" fill="#b0b0b0" stroke="#111" stroke-width="0.8"/>
<path d="M527,303.5 C535,305.5 542,309.5 547.5,316.5 C547.5,318.5 546,319 544,319 L527.5,316.5 Z" fill="#666" stroke="#111" stroke-width="1.3" stroke-linejoin="round"/>
<ellipse cx="524.8" cy="309.8" rx="4.2" ry="5.3" transform="rotate(15 524.8 309.8)" fill="#777" stroke="#111" stroke-width="1.5"/>
<ellipse cx="524.8" cy="309.8" rx="1.8" ry="2.4" transform="rotate(15 524.8 309.8)" fill="#111"/>
<g id="handle">
<path d="M428,337 L452.5,344.5 L455,367 L421,367 L428,360 C432,356 431,350 428,346 Z" fill="#585858" stroke="#111" stroke-width="1.6" stroke-linejoin="round"/>
<path d="M429.5,352 L455,358" stroke="#111" stroke-width="1.4"/>
<path d="M451.8,343.6 C454,342.5 457,342.5 460,343 L462,370.7 C459,371 456,370 453.4,368.6 Z" fill="#4a4a4a" stroke="#111" stroke-width="1.4"/>
<ellipse cx="461.5" cy="356.8" rx="5" ry="13.6" fill="#6a6a6a" stroke="#111" stroke-width="1.8"/>
<ellipse cx="462.5" cy="356.8" rx="2.4" ry="9.5" fill="#555" stroke="#222" stroke-width="0.8"/>
<path d="M415.8,310.5 C418,307 422,306.5 425.4,306.7 C431,306.5 436,308.5 438.2,311.6 C440.5,314 441,317 440.3,319.1 C439.5,322 438.5,324 437.1,325.5 C435,327.5 432.5,329 430.7,329.8 L429.6,337.2 L428,345 C431,349 432,355 428.6,363.9 C425,365.5 422,366.5 420,368.2 C417.5,370.5 416.5,373 416.2,376 L415.8,385.3 C414,389 411.5,391.5 409.4,391.7 L400.8,391.7 C397,391 394.5,388.5 393.3,385.3 C392.3,379 392,372 392.3,366 C392.8,358 393.5,351 394.4,344.7 C396,338 398,333.5 400.8,329.8 C403.5,325 406.5,321.5 409.4,318 C411.5,315 413.5,312.5 415.8,310.5 Z" fill="#525252" stroke="#111" stroke-width="1.8" stroke-linejoin="round"/>
<path d="M410,317.5 C405.5,323 401.5,330 398.8,337.5 L406,340 C408,332 411.5,325 416,319 C414,317.5 412,317 410,317.5 Z" fill="#a6a6a6"/>
<path d="M398.6,338 C396,346 394.6,356 394.4,366 C394.3,373 394.8,379 396,384 L402,383 C401,372 401.5,354 405.8,340.5 Z" fill="#8c8c8c"/>
<path d="M416,319 C411.5,325 408,332 406,340 C402,352 401,370 402,383" fill="none" stroke="#1a1a1a" stroke-width="1.1"/>
<path d="M398.8,337.5 L406,340" stroke="#1a1a1a" stroke-width="1"/>
<path d="M416,311 C419,307.5 424,306.8 428,307 C433,307.3 437,309 439,312 C440.5,316 439,321 436.5,324.5 C433,328 429,329 425,327.5 C420,325 416,320 415.3,315 Z" fill="#3c3c3c" stroke="#111" stroke-width="1.2"/>
<ellipse cx="427.5" cy="311.2" rx="5.5" ry="2.2" transform="rotate(8 427.5 311.2)" fill="#e8e8e8"/>
<path d="M420,326 L431,330 L429.5,339 L418.5,336 Z" fill="#0f0f0f"/>
<path d="M403.5,372.5 L415.8,371.5 L415.6,386.5 L404.5,387.5 Z" fill="#0f0f0f"/>
</g>
<g id="bolt2">
<line x1="652" y1="235.3" x2="658" y2="240.3" stroke="#111" stroke-width="5" stroke-linecap="round"/>
<line x1="653" y1="236" x2="656" y2="238.5" stroke="#8a8a8a" stroke-width="1.2"/>
<ellipse cx="661.8" cy="241.2" rx="5.4" ry="6.8" transform="rotate(-30 661.8 241.2)" fill="#1c1c1c" stroke="#0e0e0e" stroke-width="1"/>
<ellipse cx="663.2" cy="242.3" rx="2.4" ry="3.6" transform="rotate(-20 663.2 242.3)" fill="#9a9a9a"/>
<path d="M659.5,238 L658.5,244" stroke="#e0e0e0" stroke-width="1.1"/>
</g>
<!-- labels -->
<path d="M673.6,106.8 L677.1,106.8 L677.1,122 L673.6,122 L673.6,111.6 C672.6,112.5 671.3,113.3 670,113.7 L670,110.6 C671.8,109.9 673,108.6 673.6,106.8 Z" fill="#111"/>
<text x="355.2" y="327.7">2</text>
<text x="315.5" y="211.9">3</text>
<text x="0" y="0" transform="translate(196.2 121.7) scale(0.87 1)">4</text>
<text x="37" y="106.5">5</text>
<g stroke="#222" stroke-width="0.8" fill="none">
<line x1="647" y1="127.4" x2="669.3" y2="115.7"/>
<line x1="368.4" y1="320.3" x2="404.3" y2="323.8"/>
<line x1="327.6" y1="204.4" x2="371.3" y2="181.6"/>
<line x1="203.5" y1="122.3" x2="190.4" y2="137.8"/>
<line x1="49" y1="91.5" x2="68.1" y2="63.5"/>
</g>
</svg>
</body></html>
